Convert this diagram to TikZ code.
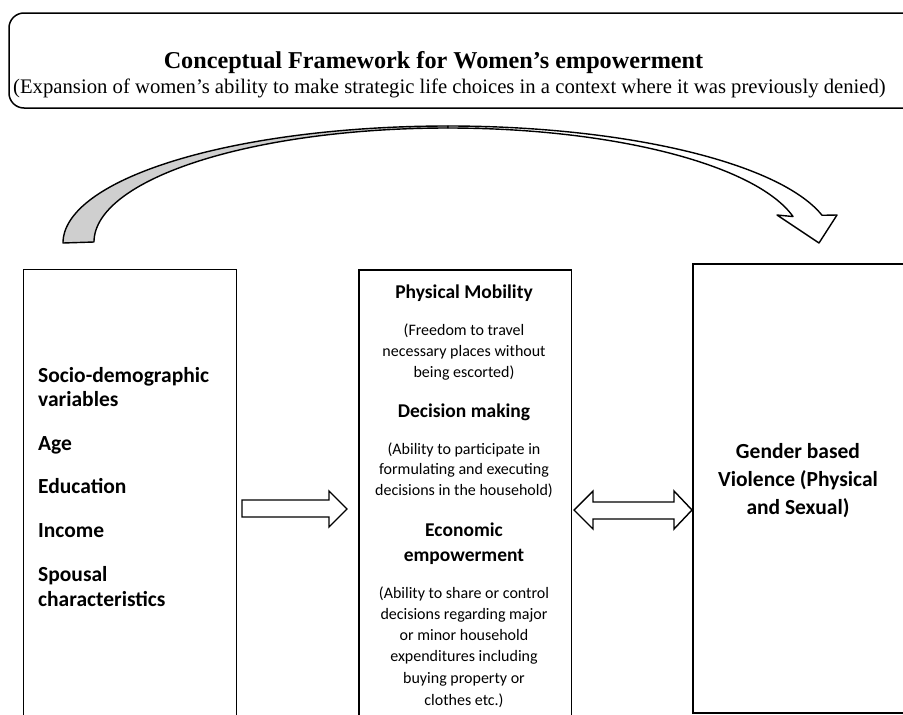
\documentclass[tikz,border=0pt]{standalone}
\usepackage{fontspec}
\setmainfont{Liberation Serif}
\newfontfamily\calib{Carlito}
\definecolor{bandgrey}{HTML}{CFCFCF}
\begin{document}
\begin{tikzpicture}[x=1pt,y=-1pt,
  box/.style={draw=black, line width=1.6pt, inner sep=0pt, anchor=north west},
  blk/.style={draw=black, line width=1.4pt, fill=white, line join=miter},
  band/.style={draw=black, line width=1.4pt, line join=round},
  ttl/.style={inner sep=0pt, anchor=base, font=\bfseries\fontsize{24.2}{28}\selectfont},
  sub/.style={inner sep=0pt, anchor=base, font=\fontsize{20.7}{24}\selectfont},
  ln/.style={inner sep=0pt, anchor=base, font=\calib\fontsize{16}{19}\selectfont},
  hd/.style={inner sep=0pt, anchor=base, font=\calib\bfseries\fontsize{19.5}{23}\selectfont},
  big/.style={inner sep=0pt, anchor=base, font=\calib\bfseries\fontsize{21.5}{25}\selectfont},
  bigl/.style={big, anchor=base west},
]
\useasboundingbox (0,0) rectangle (903,715);
\fill[white] (0,0) rectangle (903,715);
\begin{scope}
\clip (0,0) rectangle (903,715);
% title box
\draw[line width=1.5pt, rounded corners=15pt] (9,13) rectangle (940,108);
\node[ttl] (title) at (433.5,68) {Conceptual Framework for Women’s empowerment};
\node[sub] (subtitle) at (449.5,93) {(Expansion of women’s ability to make strategic life choices in a context where it was previously denied)};

% curved arrow: shaded back part
\filldraw[band, fill=bandgrey]
  plot[domain=180:90, samples=90, smooth] ({448+385*cos(\x)},{243-117*sin(\x)})
  -- plot[domain=90:180, samples=90, smooth] ({448+354*cos(\x)},{242-114*sin(\x)})
  -- cycle;
% curved arrow: front part with head
\filldraw[band, fill=white]
  plot[domain=90:13.7, samples=90, smooth] ({448+385*cos(\x)},{243-117*sin(\x)})
  -- (837,215) -- (819,243) -- (777,215)
  -- plot[domain=12.9:90, samples=90, smooth] ({448+354*cos(\x)},{242-114*sin(\x)})
  -- cycle;

% boxes
\node[box, minimum width=213pt, minimum height=470pt] (leftbox) at (22.5,268.5) {};
\node[box, minimum width=212.5pt, minimum height=470pt] (midbox) at (358,269) {};
\node[box, minimum width=260pt, minimum height=449pt] (rightbox) at (692,263) {};

% block arrows
\draw[blk] (242,500) -- (329,500) -- (329,491) -- (347,509) -- (329,527) -- (329,517) -- (242,517) -- cycle;
\draw[blk] (574,510) -- (593,491) -- (593,502) -- (674,502) -- (674,491) -- (692,510)
  -- (674,529) -- (674,519) -- (593,519) -- (593,529) -- cycle;

% left box text
\node[bigl] (l1) at (38,382) {Socio-demographic};
\node[bigl] (l2) at (38,406) {variables};
\node[bigl] (l3) at (38,450) {Age};
\node[bigl] (l4) at (38,493) {Education};
\node[bigl] (l5) at (38,537) {Income};
\node[bigl] (l6) at (38,581) {Spousal};
\node[bigl] (l7) at (38,606) {characteristics};

% middle box text
\node[hd] (m1) at (464,298) {Physical Mobility};
\node[ln] (m2) at (464,335) {(Freedom to travel};
\node[ln] (m3) at (464,356) {necessary places without};
\node[ln] (m4) at (464,377) {being escorted)};
\node[hd] (m5) at (464,417) {Decision making};
\node[ln] (m6) at (464,454) {(Ability to participate in};
\node[ln] (m7) at (464,474) {formulating and executing};
\node[ln] (m8) at (464,495) {decisions in the household)};
\node[hd] (m9) at (464,536) {Economic};
\node[hd] (m10) at (464,561) {empowerment};
\node[ln] (m11) at (464,598) {(Ability to share or control};
\node[ln] (m12) at (464,619) {decisions regarding major};
\node[ln] (m13) at (464,640) {or minor household};
\node[ln] (m14) at (464,661) {expenditures including};
\node[ln] (m15) at (464,683) {buying property or};
\node[ln] (m16) at (464,705) {clothes etc.)};

% right box text
\node[big] (r1) at (798,458) {Gender based};
\node[big] (r2) at (798,486) {Violence (Physical};
\node[big] (r3) at (798,514) {and Sexual)};
\end{scope}
\end{tikzpicture}
\end{document}
